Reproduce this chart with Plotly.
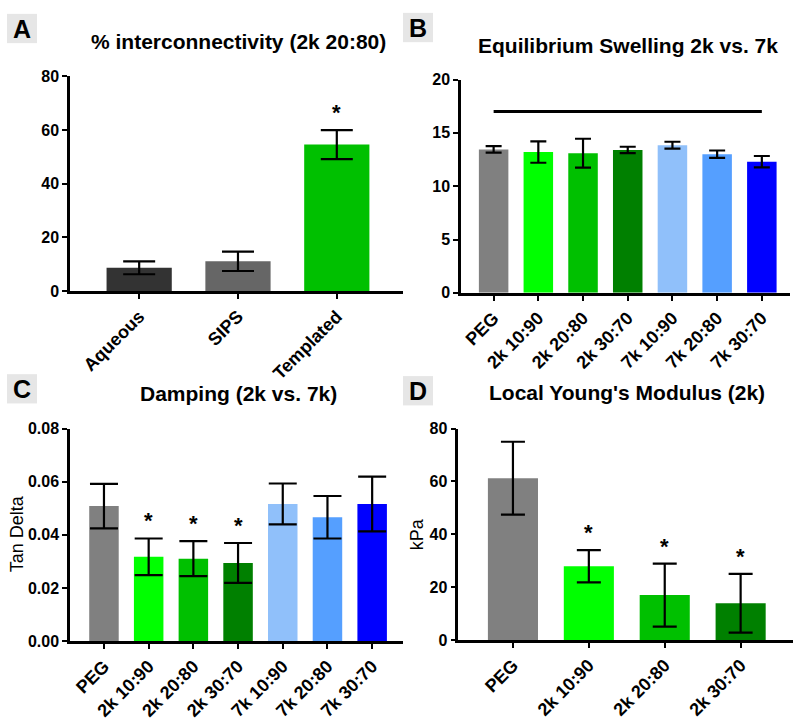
import plotly.graph_objects as go

# ---------------- data ----------------
a_cats = ["Aqueous", "SIPS", "Templated"]
a_vals = [8.7, 11.1, 54.6]
a_errs = [2.4, 3.6, 5.4]
a_sig = [False, False, True]

b_cats = ["PEG", "2k 10:90", "2k 20:80", "2k 30:70", "7k 10:90", "7k 20:80", "7k 30:70"]
b_vals = [13.45, 13.2, 13.1, 13.4, 13.85, 13.0, 12.3]
b_errs = [0.3, 1.0, 1.35, 0.3, 0.32, 0.35, 0.53]
b_line_level = 17.0

c_cats = ["PEG", "2k 10:90", "2k 20:80", "2k 30:70", "7k 10:90", "7k 20:80", "7k 30:70"]
c_vals = [0.0508, 0.0317, 0.0310, 0.0294, 0.0516, 0.0466, 0.0516]
c_errs = [0.0084, 0.0069, 0.0066, 0.0075, 0.0077, 0.0080, 0.0103]
c_sig = [False, True, True, True, False, False, False]

d_cats = ["PEG", "2k 10:90", "2k 20:80", "2k 30:70"]
d_vals = [61.2, 27.9, 17.0, 13.9]
d_errs = [13.8, 6.1, 11.9, 11.1]
d_sig = [False, True, True, True]

a_colors = ["#333333", "#666666", "#00C000"]
bc_colors = ["#808080", "#00FF00", "#00C000", "#008000", "#90C0FA", "#559FFF", "#0000FF"]
d_colors = ["#808080", "#00FF00", "#00C000", "#008000"]

W, H = 800, 721
FONT = "Arial, Liberation Sans, sans-serif"


def fx(px):
    return px / W


def fy(px):
    return 1 - px / H


fig = go.Figure()

panels = [
    (a_cats, a_vals, a_errs, a_colors, "x", "y", 16),
    (b_cats, b_vals, b_errs, bc_colors, "x2", "y2", 8),
    (c_cats, c_vals, c_errs, bc_colors, "x3", "y3", 14),
    (d_cats, d_vals, d_errs, d_colors, "x4", "y4", 12),
]

for cats, vals, errs, cols, xa, ya, cap in panels:
    fig.add_trace(go.Bar(
        x=cats, y=vals, marker=dict(color=cols, line=dict(width=0)),
        width=0.66, xaxis=xa, yaxis=ya, showlegend=False,
        error_y=dict(type="data", array=errs, visible=True, color="black",
                     thickness=2.2, width=cap),
    ))

# significance line in panel B
fig.add_trace(go.Scatter(
    x=[b_cats[0], b_cats[-1]], y=[b_line_level, b_line_level], mode="lines",
    line=dict(color="black", width=3), xaxis="x2", yaxis="y2", showlegend=False,
))

axis_common = dict(
    showline=True, linecolor="black", linewidth=2.5, ticks="outside",
    ticklen=5, tickwidth=2.2, tickcolor="black", showgrid=False, zeroline=False,
)
ytick_font = dict(family=FONT, size=16, color="black", weight="bold")
xtick_font = dict(family=FONT, size=18, color="black", weight="bold")

layout = dict(
    width=W, height=H, margin=dict(l=0, r=0, t=0, b=0),
    paper_bgcolor="white", plot_bgcolor="white",
    xaxis=dict(domain=[fx(70), fx(403)], anchor="y", range=[-0.7, 2.67],
               tickangle=-45, tickfont=xtick_font, **axis_common),
    yaxis=dict(domain=[fy(290), fy(70)], anchor="x", range=[0, 80],
               tickvals=[0, 20, 40, 60, 80], tickfont=ytick_font, **axis_common),
    xaxis2=dict(domain=[fx(461), fx(790)], anchor="y2", range=[-0.73, 6.63],
                tickangle=-45, tickfont=xtick_font, **axis_common),
    yaxis2=dict(domain=[fy(291.7), fy(73.3)], anchor="x2", range=[0, 20],
                tickvals=[0, 5, 10, 15, 20], tickfont=ytick_font, **axis_common),
    xaxis3=dict(domain=[fx(70), fx(403)], anchor="y3", range=[-0.76, 6.69],
                tickangle=-45, tickfont=xtick_font, **axis_common),
    yaxis3=dict(domain=[fy(648.3), fy(430.7)], anchor="x3", range=[0, 0.08],
                tickvals=[0, 0.02, 0.04, 0.06, 0.08], tickformat=".2f",
                tickfont=ytick_font, **axis_common),
    xaxis4=dict(domain=[fx(458.3), fx(793)], anchor="y4", range=[-0.72, 3.69],
                tickangle=-45, tickfont=xtick_font, **axis_common),
    yaxis4=dict(domain=[fy(647.3), fy(430.7)], anchor="x4", range=[0, 80],
                tickvals=[0, 20, 40, 60, 80], tickfont=ytick_font, **axis_common),
)
fig.update_layout(**layout)

annotations = []
shapes = []

titles = [
    ("% interconnectivity (2k 20:80)", 238, 34),
    ("Equilibrium Swelling 2k vs. 7k", 628, 38),
    ("Damping (2k vs. 7k)", 238.5, 395),
    ("Local Young's Modulus (2k)", 627, 394),
]
for text, cx, cy in titles:
    annotations.append(dict(
        text=text, x=fx(cx), y=fy(cy), xref="paper", yref="paper",
        xanchor="center", yanchor="middle", showarrow=False,
        font=dict(family=FONT, size=21, color="black", weight="bold"),
    ))

# y-axis titles (rotated)
for text, cx, cy in [("Tan Delta", 17, 539), ("kPa", 417, 539)]:
    annotations.append(dict(
        text=text, x=fx(cx), y=fy(cy), xref="paper", yref="paper",
        xanchor="center", yanchor="middle", showarrow=False, textangle=-90,
        font=dict(family=FONT, size=18, color="black"),
    ))

letters = [("A", 7, 6), ("B", 403, 5), ("C", 7, 375), ("D", 403, 377)]
for letter, lx, ly in letters:
    shapes.append(dict(type="rect", xref="paper", yref="paper",
                       x0=fx(lx), x1=fx(lx + 30), y0=fy(ly + 30), y1=fy(ly),
                       fillcolor="#E6E6E6", line=dict(width=0), layer="below"))
    annotations.append(dict(
        text=letter, x=fx(lx + 15), y=fy(ly + 15), xref="paper", yref="paper",
        xanchor="center", yanchor="middle", showarrow=False,
        font=dict(family=FONT, size=25, color="black", weight="bold"),
    ))

for cats, vals, errs, sig, xa, ya in [
    (a_cats, a_vals, a_errs, a_sig, "x", "y"),
    (c_cats, c_vals, c_errs, c_sig, "x3", "y3"),
    (d_cats, d_vals, d_errs, d_sig, "x4", "y4"),
]:
    for c, v, e, s in zip(cats, vals, errs, sig):
        if s:
            annotations.append(dict(
                text="*", x=c, y=v + e, xref=xa, yref=ya, xanchor="center",
                yanchor="bottom", yshift=3, showarrow=False,
                font=dict(family=FONT, size=22, color="black", weight="bold"),
            ))

fig.update_layout(annotations=annotations, shapes=shapes)
fig.write_html("out.html", config={"displayModeBar": False},
               post_script="document.body.style.margin='0px';")
